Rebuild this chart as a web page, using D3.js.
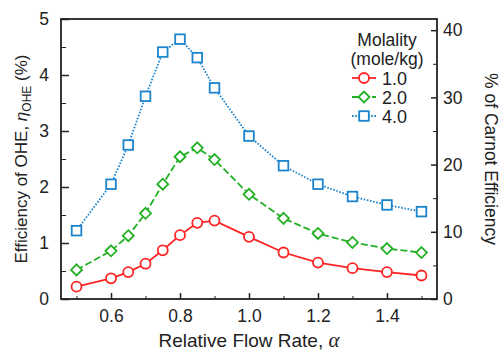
<!DOCTYPE html>
<html>
<head>
<meta charset="utf-8">
<script src="https://cdn.jsdelivr.net/npm/d3@7"></script>
<style>
  body { margin: 0; background: #fff; }
  svg { font-family: 'Liberation Sans', Arial, sans-serif; }
  .axis path, .axis line { stroke: #222; }
  .axis text { font-size: 17.5px; fill: #222; }
</style>
</head>
<body>
<div id="chart"></div>
<script>
const width = 503;
const height = 351;
const margin = { top: 19, right: 66, bottom: 52, left: 61 };

// relative flow rate (alpha)
const flowRate = [0.5, 0.6, 0.65, 0.7, 0.75, 0.8, 0.85, 0.9, 1.0, 1.1, 1.2, 1.3, 1.4, 1.5];
// efficiency of OHE (%) for each molality
const eff1 = [0.22, 0.37, 0.48, 0.63, 0.87, 1.14, 1.36, 1.40, 1.11, 0.83, 0.65, 0.55, 0.48, 0.42];
const eff2 = [0.52, 0.86, 1.13, 1.53, 2.05, 2.54, 2.70, 2.49, 1.87, 1.44, 1.17, 1.01, 0.90, 0.83];
const eff4 = [1.22, 2.05, 2.75, 3.62, 4.41, 4.64, 4.31, 3.77, 2.91, 2.38, 2.05, 1.83, 1.68, 1.56];
const molality = ['1.0', '2.0', '4.0'];
const xTicks = [0.6, 0.8, 1.0, 1.2, 1.4];
const yTicks = [0, 1, 2, 3, 4, 5];
const carnotTicks = [0, 10, 20, 30, 40];
const carnotFactor = 0.12; // OHE % / Carnot % ratio

const series = [
  { name: molality[0], values: eff1, color: '#ff2424', dash: null, shape: 'circle' },
  { name: molality[1], values: eff2, color: '#24b024', dash: '7,3', shape: 'diamond' },
  { name: molality[2], values: eff4, color: '#1c84cc', dash: '1.6,1.6', shape: 'square' },
];

const w = width - margin.left - margin.right;
const h = height - margin.top - margin.bottom;

const svg = d3
  .select('#chart')
  .append('svg')
  .attr('width', width)
  .attr('height', height);

const g = svg.append('g').attr('transform', `translate(${margin.left},${margin.top})`);

const x = d3.scaleLinear().domain([0.455, 1.545]).range([0, w]);
const y = d3.scaleLinear().domain([0, 5]).range([h, 0]);
const y2 = d3.scaleLinear().domain([0, 5 / carnotFactor]).range([h, 0]);

// minor ticks
g.append('g')
  .attr('class', 'axis')
  .attr('transform', `translate(0,${h})`)
  .call(d3.axisBottom(x).tickValues(d3.range(0.5, 1.51, 0.1)).tickSize(-3).tickFormat(''))
  .call((s) => s.select('.domain').remove());
g.append('g')
  .attr('class', 'axis')
  .call(d3.axisLeft(y).tickValues(d3.range(0.5, 5, 1)).tickSize(-5).tickFormat(''))
  .call((s) => s.select('.domain').remove());
g.append('g')
  .attr('class', 'axis')
  .attr('transform', `translate(${w},0)`)
  .call(d3.axisRight(y2).tickValues([5, 15, 25, 35]).tickSize(-4).tickFormat(''))
  .call((s) => s.select('.domain').remove());

// major axes
const xAxis = g.append('g')
  .attr('class', 'axis')
  .attr('transform', `translate(0,${h})`)
  .call(d3.axisBottom(x).tickValues(xTicks).tickSize(-6).tickPadding(10.5).tickFormat(d3.format('.1f')));
const yAxis = g.append('g')
  .attr('class', 'axis')
  .call(d3.axisLeft(y).tickValues(yTicks).tickSize(-8).tickPadding(12).tickFormat(d3.format('d')));
const y2Axis = g.append('g')
  .attr('class', 'axis')
  .attr('transform', `translate(${w},0)`)
  .call(d3.axisRight(y2).tickValues(carnotTicks).tickSize(-6).tickPadding(6));
[xAxis, yAxis, y2Axis].forEach((a) => {
  a.select('.domain').remove();
  a.selectAll('line').attr('stroke-width', 1.5);
});

// frame
g.append('rect')
  .attr('width', w)
  .attr('height', h)
  .attr('fill', 'none')
  .attr('stroke', '#222')
  .attr('stroke-width', 1.8);

const line = d3.line()
  .x((d, i) => x(flowRate[i]))
  .y((d) => y(d));

function drawMarker(sel, shape, color) {
  if (shape === 'circle') {
    sel.append('circle').attr('r', 5);
  } else if (shape === 'diamond') {
    sel.append('path').attr('d', 'M0,-5.5L5.5,0L0,5.5L-5.5,0Z');
  } else {
    sel.append('rect').attr('x', -4.8).attr('y', -4.8).attr('width', 9.6).attr('height', 9.6);
  }
  sel.selectAll('*')
    .attr('fill', '#fff')
    .attr('stroke', color)
    .attr('stroke-width', 1.8);
}

series.forEach((s) => {
  g.append('path')
    .datum(s.values)
    .attr('d', line)
    .attr('fill', 'none')
    .attr('stroke', s.color)
    .attr('stroke-width', 1.8)
    .attr('stroke-dasharray', s.dash);

  g.selectAll(null)
    .data(s.values)
    .enter()
    .append('g')
    .attr('transform', (d, i) => `translate(${x(flowRate[i])},${y(d)})`)
    .each(function () {
      drawMarker(d3.select(this), s.shape, s.color);
    });
});

// legend
const legend = svg.append('g').attr('transform', 'translate(364,0)');
legend.append('text')
  .attr('x', 23).attr('y', 45.5)
  .attr('text-anchor', 'middle')
  .style('font-size', '17.5px').attr('fill', '#222')
  .text('Molality');
legend.append('text')
  .attr('x', 23).attr('y', 65)
  .attr('text-anchor', 'middle')
  .style('font-size', '17.5px').attr('fill', '#222')
  .text('(mole/kg)');
series.forEach((s, i) => {
  const ly = 78 + i * 19;
  const item = legend.append('g').attr('transform', `translate(0,${ly})`);
  item.append('line')
    .attr('x1', -12).attr('x2', 12)
    .attr('stroke', s.color)
    .attr('stroke-width', 1.8)
    .attr('stroke-dasharray', s.dash);
  drawMarker(item.append('g'), s.shape, s.color);
  item.append('text')
    .attr('x', 18).attr('y', 6.5)
    .style('font-size', '18px').attr('fill', '#222')
    .text(s.name);
});

// axis titles
svg.append('text')
  .attr('x', margin.left + w / 2)
  .attr('y', 347)
  .attr('text-anchor', 'middle')
  .style('font-size', '19px').attr('fill', '#222')
  .html('Relative Flow Rate, <tspan font-family="Liberation Serif" font-style="italic" font-size="21px">α</tspan>');

svg.append('text')
  .attr('transform', `translate(27,${margin.top + h / 2}) rotate(-90)`)
  .attr('text-anchor', 'middle')
  .style('font-size', '17px').attr('fill', '#222')
  .html('Efficiency of OHE, <tspan font-style="italic">η</tspan><tspan font-size="12px" dy="4">OHE</tspan><tspan dy="-4"> (%)</tspan>');

svg.append('text')
  .attr('transform', `translate(485,${margin.top + 140}) rotate(90)`)
  .attr('text-anchor', 'middle')
  .style('font-size', '17.5px').attr('fill', '#222')
  .text('% of Carnot Efficiency');
</script>
</body>
</html>
